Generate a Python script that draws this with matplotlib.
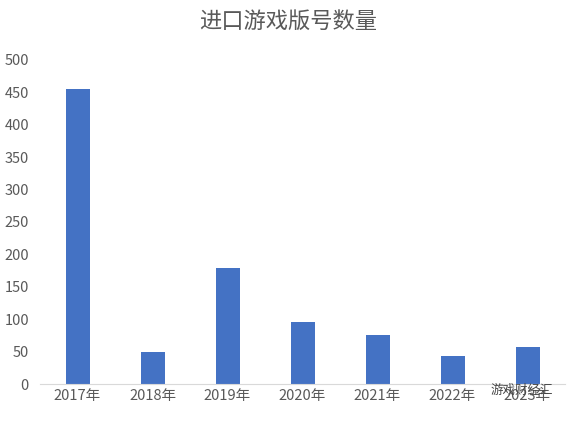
import matplotlib
matplotlib.use("Agg")
import matplotlib.pyplot as plt

plt.rcParams['font.family'] = ['Noto Sans CJK SC', 'DejaVu Sans']

categories = ["2017年", "2018年", "2019年", "2020年", "2021年", "2022年", "2023年"]
values = [455, 49, 179, 96, 76, 43, 57]
yticks = [0, 50, 100, 150, 200, 250, 300, 350, 400, 450, 500]

fig = plt.figure(figsize=(5.76, 4.22), dpi=100)
ax = fig.add_axes([40/576, 1-384/422, 525/576, (384-60)/422])
x = range(len(categories))
ax.bar(x, values, width=0.32, color="#4472C4")
ax.set_xlim(-0.5, len(categories)-0.5)
ax.set_ylim(0, 500)
ax.set_yticks(yticks)
ax.set_xticks(list(x))
ax.set_xticklabels(categories)
for s in ["top", "right", "left"]:
    ax.spines[s].set_visible(False)
ax.spines["bottom"].set_color("#D9D9D9")
ax.tick_params(axis="both", length=0, colors="#595959", labelsize=10.5)
ax.tick_params(axis="y", pad=8)
fig.text(0.5, 0.95, "进口游戏版号数量", ha="center", va="center", fontsize=16, color="#595959")
fig.text(0.905, 0.075, "游戏财经汇", ha="center", va="center", fontsize=9, color="#444444")
fig.savefig("out.png", dpi=100)
